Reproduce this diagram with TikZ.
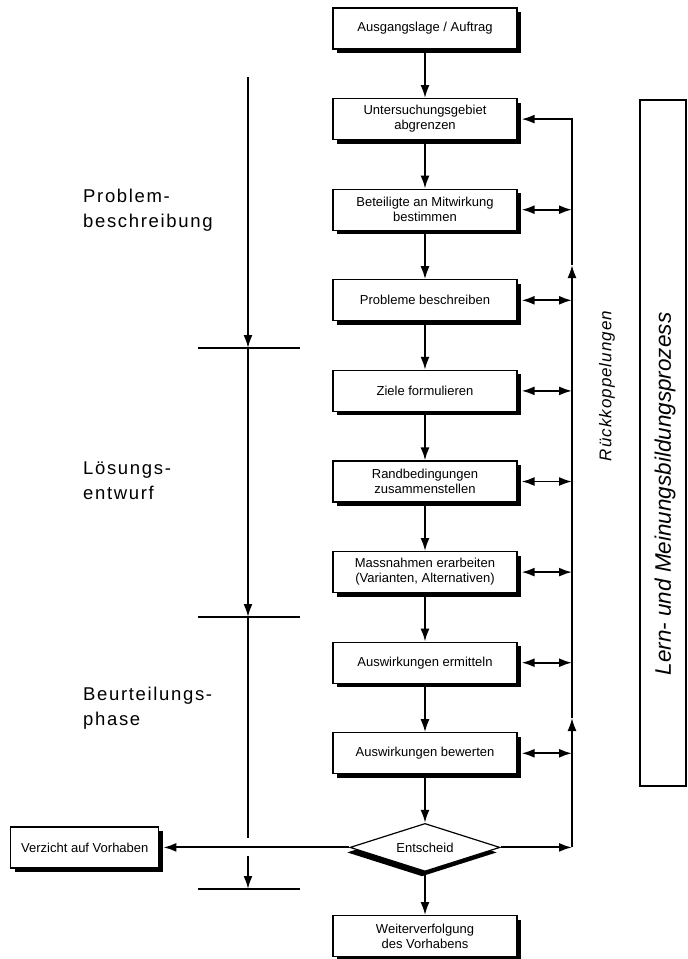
\documentclass[tikz,border=0pt]{standalone}
\usepackage{fontspec}
\setmainfont{Liberation Sans}
\newfontfamily\phasefont[LetterSpace=9]{Liberation Sans}
\newfontfamily\notefont[LetterSpace=6]{Liberation Sans}
\usepackage{tikz}
\usetikzlibrary{arrows.meta,positioning,shapes.geometric,shadows}

\begin{document}
\begin{tikzpicture}[
  x=1pt, y=1pt,
  font=\fontsize{13}{15}\selectfont,
  block/.style={draw, fill=white, align=center, minimum width=184pt, minimum height=41pt, inner sep=2pt, line width=1.2pt,
    drop shadow={shadow xshift=4pt, shadow yshift=-4pt, fill=black, opacity=1}},
  decision/.style={diamond, aspect=3, draw, fill=white, minimum width=150pt, minimum height=48pt, inner sep=0pt, line width=1.2pt,
    drop shadow={shadow xshift=-3pt, shadow yshift=-5pt, fill=black, opacity=1}},
  arrow/.style={-{Latex[length=13pt,width=9pt]}, line width=1.9pt},
  twoway/.style={{Latex[length=13pt,width=9pt]}-{Latex[length=13pt,width=9pt]}, line width=1.9pt},
  tick/.style={line width=1.9pt},
  phase/.style={font=\phasefont\fontsize{18.5}{25}\selectfont, align=left, anchor=base west, inner sep=0pt},
]
\useasboundingbox (0,0) rectangle (688,-959);

% main column
\node[block] (start) at (425,-28.5) {Ausgangslage / Auftrag};
\node[block, below=48.4pt of start] (gebiet) {Untersuchungsgebiet\\abgrenzen};
\node[block, below=48.4pt of gebiet] (beteil) {Beteiligte an Mitwirkung\\bestimmen};
\node[block, below=48.4pt of beteil] (probl) {Probleme beschreiben};
\node[block, below=48.4pt of probl] (ziele) {Ziele formulieren};
\node[block, below=48.4pt of ziele] (rand) {Randbedingungen\\zusammenstellen};
\node[block, below=48.4pt of rand] (mass) {Massnahmen erarbeiten\\(Varianten, Alternativen)};
\node[block, below=48.4pt of mass] (ermit) {Auswirkungen ermitteln};
\node[block, below=48.4pt of ermit] (bewert) {Auswirkungen bewerten};
\node[decision, below=48.4pt of bewert] (ent) {Entscheid};
\node[block, below=43pt of ent] (weiter) {Weiterverfolgung\\des Vorhabens};
\node[block, minimum width=148pt, left=190pt of ent] (verzicht) {Verzicht auf Vorhaben};

\foreach \a/\b in {start/gebiet, gebiet/beteil, beteil/probl, probl/ziele, ziele/rand, rand/mass, mass/ermit, ermit/bewert, bewert/ent, ent/weiter}
  \draw[arrow] (\a) -- (\b);
\draw[arrow] (ent.west) -- ([xshift=4pt]verzicht.east);

% feedback loop
\coordinate (fb) at (572,0);
\coordinate (up1) at (572,-718);
\coordinate (up2) at (572,-265);
\foreach \n in {beteil, probl, ziele, rand, mass, ermit, bewert}
  \draw[twoway] ([xshift=4pt]\n.east) -- (\n.east -| fb);
\draw[arrow] (ent.east) -- (ent.east -| fb);
\draw[arrow] (ent.east -| fb) -- (up1);
\draw[arrow] (up1) -- (up2);
\draw[arrow] (up2) |- ([xshift=4pt]gebiet.east);
\node[rotate=90, font=\notefont\itshape\fontsize{17}{20}\selectfont] (rueck) at (607,-386) {Rückkoppelungen};

% phases
\coordinate (t0) at (248,-77);
\coordinate (t1) at (248,-348);
\coordinate (t2) at (248,-617);
\coordinate (t3) at (248,-889);
\coordinate (g1) at (248,-838);
\coordinate (g2) at (248,-856);
\draw[arrow] (t0) -- (t1);
\draw[arrow] (t1) -- (t2);
\draw[tick] (t2) -- (g1);
\draw[arrow] (g2) -- (t3);
\foreach \t in {t1,t2,t3}
  \draw[tick] ([xshift=-50pt]\t) -- ([xshift=52pt]\t);

\node[phase] (ph1) at (83,-227) {Problem-\\beschreibung};
\node[phase] (ph2) at (83,-499) {Lösungs-\\entwurf};
\node[phase] (ph3) at (83,-725) {Beurteilungs-\\phase};

% learning process
\node[draw, line width=1.3pt, minimum width=46pt, minimum height=686pt, inner sep=0pt] (lernbox) at (663,-443) {};
\node[rotate=90, font=\itshape\fontsize{22.5}{26}\selectfont] (lern) at (665,-494) {Lern- und Meinungsbildungsprozess};

\end{tikzpicture}
\end{document}
